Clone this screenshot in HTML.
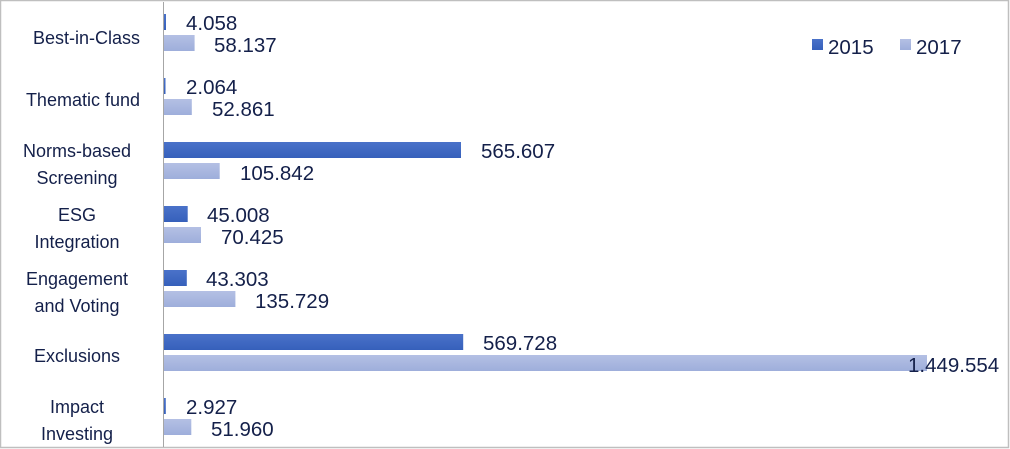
<!DOCTYPE html>
<html><head><meta charset="utf-8"><style>
html,body{margin:0;padding:0;background:#fff;}
svg{display:block;font-family:"Liberation Sans",Carlito,sans-serif;}
</style></head><body>
<svg width="1010" height="449" viewBox="0 0 1010 449" xmlns="http://www.w3.org/2000/svg">
<defs>
<linearGradient id="g1" x1="0" y1="0" x2="0" y2="1"><stop offset="0" stop-color="#4a72c9"/><stop offset="1" stop-color="#3660bb"/></linearGradient>
<linearGradient id="g2" x1="0" y1="0" x2="0" y2="1"><stop offset="0" stop-color="#b4c0e4"/><stop offset="1" stop-color="#9eaedb"/></linearGradient>
</defs>
<rect x="0.5" y="0.5" width="1008" height="447" fill="#fff" stroke="#bfbfbf" stroke-width="1.5"/>
<line x1="163.5" y1="2" x2="163.5" y2="447" stroke="#a6a6a6" stroke-width="1"/>
<g fill="#14204a" font-size="18">
<rect x="164" y="14" width="2" height="16" fill="url(#g1)"/>
<rect x="164" y="35" width="30.6" height="16" fill="url(#g2)"/>
<text x="140" y="44" text-anchor="end">Best-in-Class</text>
<rect x="164" y="78" width="1.5" height="16" fill="url(#g1)"/>
<rect x="164" y="99" width="27.8" height="16" fill="url(#g2)"/>
<text x="140" y="106" text-anchor="end">Thematic fund</text>
<rect x="164" y="142" width="297" height="16" fill="url(#g1)"/>
<rect x="164" y="163" width="55.7" height="16" fill="url(#g2)"/>
<text x="77" y="157" text-anchor="middle">Norms-based</text>
<text x="77" y="184" text-anchor="middle">Screening</text>
<rect x="164" y="206" width="23.7" height="16" fill="url(#g1)"/>
<rect x="164" y="227" width="37" height="16" fill="url(#g2)"/>
<text x="77" y="221" text-anchor="middle">ESG</text>
<text x="77" y="248" text-anchor="middle">Integration</text>
<rect x="164" y="270" width="22.8" height="16" fill="url(#g1)"/>
<rect x="164" y="291" width="71.4" height="16" fill="url(#g2)"/>
<text x="77" y="285" text-anchor="middle">Engagement</text>
<text x="77" y="312" text-anchor="middle">and Voting</text>
<rect x="164" y="334" width="299.2" height="16" fill="url(#g1)"/>
<rect x="164" y="355" width="763" height="16" fill="url(#g2)"/>
<text x="77" y="362" text-anchor="middle">Exclusions</text>
<rect x="164" y="398" width="1.8" height="16" fill="url(#g1)"/>
<rect x="164" y="419" width="27.3" height="16" fill="url(#g2)"/>
<text x="77" y="413" text-anchor="middle">Impact</text>
<text x="77" y="440" text-anchor="middle">Investing</text>
</g>
<g fill="#14204a" font-size="20.5">
<text x="186" y="30">4.058</text><text x="214" y="52">58.137</text>
<text x="186" y="94">2.064</text><text x="212" y="116">52.861</text>
<text x="481" y="158">565.607</text><text x="240" y="180">105.842</text>
<text x="207" y="222">45.008</text><text x="221" y="244">70.425</text>
<text x="206" y="286">43.303</text><text x="255" y="308">135.729</text>
<text x="483" y="350">569.728</text><text x="908" y="372">1.449.554</text>
<text x="186" y="414">2.927</text><text x="211" y="436">51.960</text>
<rect x="812" y="39" width="11" height="11" fill="url(#g1)"/>
<text x="828" y="54">2015</text>
<rect x="900" y="39" width="11" height="11" fill="url(#g2)"/>
<text x="916" y="54">2017</text>
</g>
</svg>
</body></html>
